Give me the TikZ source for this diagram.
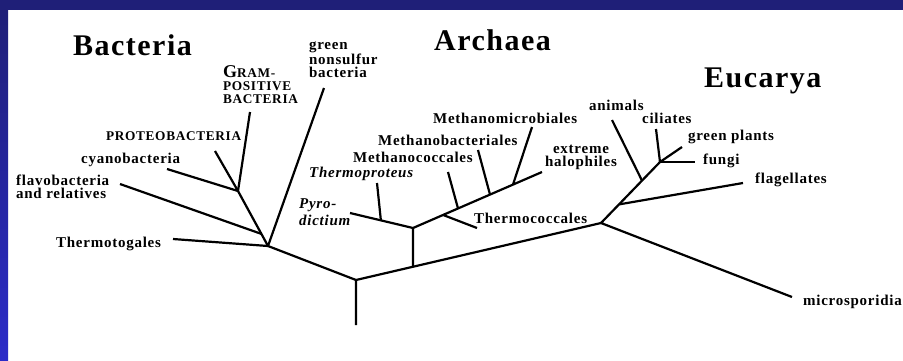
\documentclass[tikz,border=0pt]{standalone}
\usepackage{fontspec}
\setmainfont{Liberation Serif}[LetterSpace=5]
\usetikzlibrary{calc}
\definecolor{slidenavy}{HTML}{1F1F78}
\definecolor{slideblue}{HTML}{2B2BC8}

\begin{document}
\begin{tikzpicture}[x=1pt, y=-1pt, line width=2.2pt, line join=round,
    every node/.style={inner sep=0pt, anchor=base west},
    lbl/.style={font=\fontsize{15}{13}\selectfont\bfseries},
    caps/.style={font=\fontsize{13.3}{12.8}\selectfont\bfseries},
    ital/.style={font=\fontsize{15}{17}\selectfont\bfseries\itshape},
    kingdom/.style={font=\fontsize{30}{30}\selectfont\bfseries}]
    \useasboundingbox (0,0) rectangle (903,360);

    % slide frame
    \fill[white] (0,0) rectangle (903,360);
    \fill[slidenavy] (0,0) rectangle (903,10);
    \shade[top color=slidenavy, bottom color=slideblue] (0,10) rectangle (8,360);

    % root
    \coordinate (root) at (356,325);
    \coordinate (R) at (356,280);
    \coordinate (E1) at (601,223);

    % Bacteria
    \coordinate (B1) at (268,246);
    \coordinate (B3) at (238,191);
    \coordinate (thmt) at (173,239);
    \coordinate (gns) at (324,88);
    \coordinate (flav) at (120,184);
    \coordinate (cyan) at (167,169);
    \coordinate (prot) at (215,151);
    \coordinate (gram) at (250,112);

    \draw (root) -- (R) -- (B1);
    \draw (thmt) -- (B1) -- (gns);
    \draw (B1) -- (B3) -- (gram);
    \draw (cyan) -- (B3) -- (prot);
    \draw (flav) -- ($(B3)!0.78!(B1)$);

    % Archaea
    \coordinate (A1) at ($(R)!0.233!(E1)$);
    \coordinate (A2) at (413,228);
    \coordinate (pyro) at (350,213);
    \coordinate (tprot) at (377,183);
    \coordinate (halo) at (542,172);
    \coordinate (tcoc) at (477,228);
    \coordinate (mcoc) at (448,172);
    \coordinate (mbac) at (478,150);
    \coordinate (mmic) at (532,127);

    \draw (R) -- (E1);
    \draw (A1) -- (A2);
    \draw (pyro) -- (A2) -- (halo);
    \draw (tprot) -- ($(pyro)!0.49!(A2)$);
    \draw (tcoc) -- ($(A2)!0.233!(halo)$);
    \draw (mcoc) -- ($(A2)!0.349!(halo)$);
    \draw (mbac) -- ($(A2)!0.597!(halo)$);
    \draw (mmic) -- ($(A2)!0.775!(halo)$);

    % Eucarya
    \coordinate (E3) at (660,162);
    \coordinate (micro) at (792,297);
    \coordinate (flag) at (743,183);
    \coordinate (anim) at (612,120);
    \coordinate (cili) at (656,129);
    \coordinate (gpl) at (682,147);
    \coordinate (fung) at (695,162);

    \draw (micro) -- (E1) -- (E3);
    \draw (flag) -- ($(E1)!0.305!(E3)$);
    \draw (anim) -- ($(E1)!0.695!(E3)$);
    \draw (cili) -- (E3) -- (gpl);
    \draw (E3) -- (fung);

    % labels (multi-line ones sit on their last line)
    \node[kingdom] (bacttxt) at (72,55) {Bacteria};
    \node[kingdom] (archtxt) at (433,50) {Archaea};
    \node[kingdom] (eucatxt) at (703,87) {Eucarya};

    \node[caps, align=left] (gramtxt) at (222,103) {{\fontsize{18}{12.8}\selectfont G}RAM-\\POSITIVE\\BACTERIA};
    \node[caps] (prottxt) at (105,140) {PROTEOBACTERIA};
    \node[lbl] (cyantxt) at (80,163) {cyanobacteria};
    \node[lbl, align=left] (flavtxt) at (15,198) {flavobacteria\\and relatives};
    \node[lbl] (thmttxt) at (55,247) {Thermotogales};
    \node[lbl, align=left] (gnstxt) at (308,77) {green\\nonsulfur\\bacteria};

    \node[lbl] (mmictxt) at (432,123) {Methanomicrobiales};
    \node[lbl] (mbactxt) at (377,145) {Methanobacteriales};
    \node[lbl] (mcoctxt) at (352,162) {Methanococcales};
    \node[ital] (tprottxt) at (308,177) {Thermoproteus};
    \node[ital, align=left] (pyrotxt) at (298,225) {Pyro-\\dictium};
    \node[lbl] (tcoctxt) at (473,223) {Thermococcales};
    \node[lbl, align=center] (halotxt) at (544,166) {extreme\\halophiles};

    \node[lbl] (animtxt) at (588,110) {animals};
    \node[lbl] (cilitxt) at (641,123) {ciliates};
    \node[lbl] (gpltxt) at (687,140) {green plants};
    \node[lbl] (fungtxt) at (702,164) {fungi};
    \node[lbl] (flagtxt) at (754,183) {flagellates};
    \node[lbl] (microtxt) at (802,305) {microsporidia};
\end{tikzpicture}
\end{document}
